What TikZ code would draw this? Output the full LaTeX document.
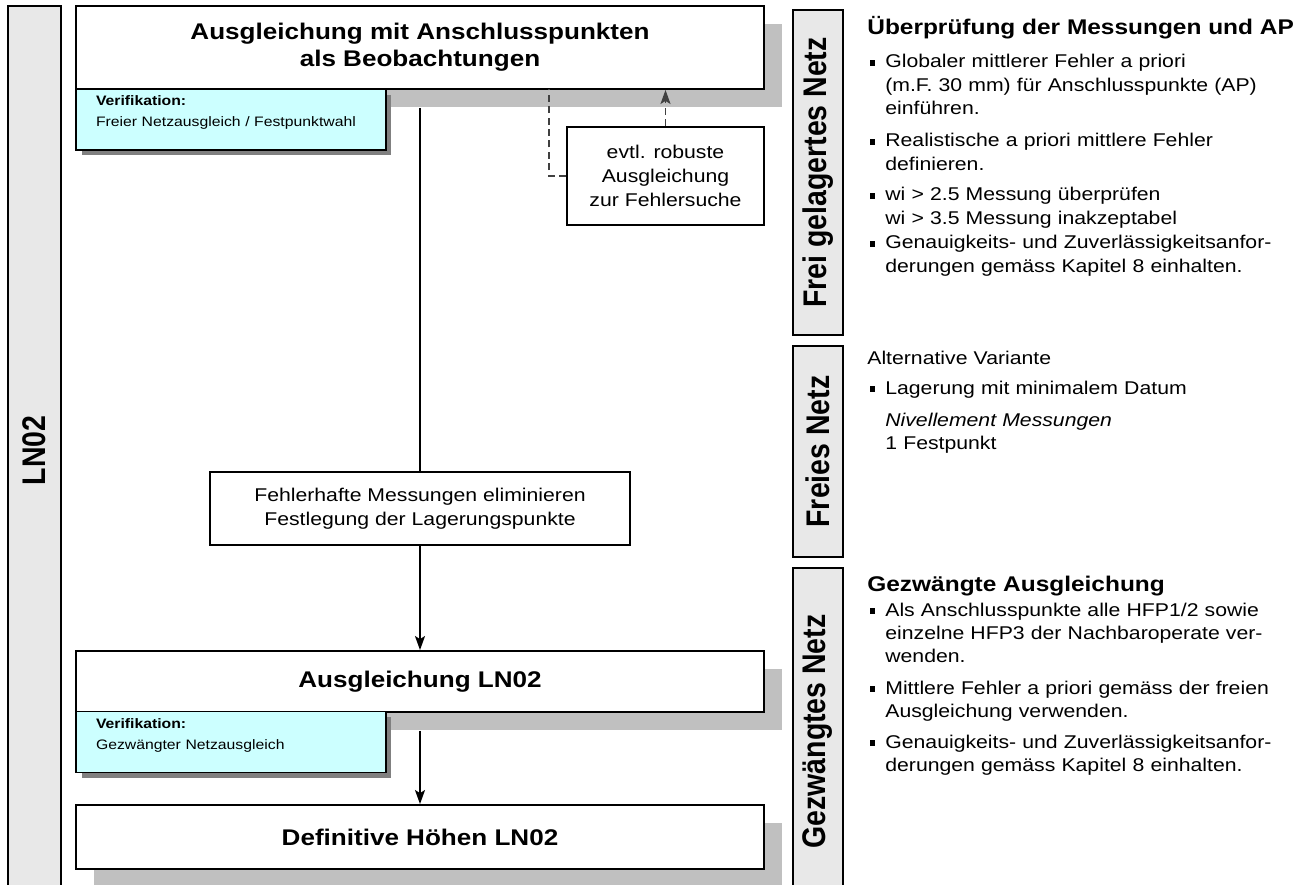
\documentclass[tikz,border=0pt]{standalone}
\usepackage{fontspec}
\setmainfont{Liberation Sans}[FakeStretch=1.15]
\newfontfamily\labelfont{Liberation Sans}
\usetikzlibrary{arrows.meta, shadows}

\definecolor{barfill}{HTML}{E8E8E8}
\definecolor{verifcyan}{HTML}{CCFFFF}
\definecolor{shadowlight}{HTML}{C0C0C0}
\definecolor{shadowdark}{HTML}{808080}
\definecolor{dashgray}{HTML}{404040}

% rotated label of the side bars
\newcommand{\sidelabel}[1]{\rotatebox{90}{\scalebox{1}[1.15]{\labelfont\bfseries\fontsize{16.2pt}{18pt}\selectfont #1}}}
% small square bullet
\newcommand{\sqbullet}{\leavevmode\llap{\rule[1.4pt]{3pt}{3pt}\hspace{5.8pt}}}

\tikzset{
  sidebar/.style={draw, line width=1.1pt, fill=barfill, inner sep=0pt},
  stepbox/.style={draw, line width=1.1pt, fill=white, minimum width=13.76cm, align=center,
    font=\fontsize{12.9pt}{15.3pt}\selectfont\bfseries,
    drop shadow={shadow xshift=0.36cm, shadow yshift=-0.36cm, fill=shadowlight, opacity=1}},
  verifbox/.style={draw, line width=1.1pt, fill=verifcyan, minimum width=6.2cm, minimum height=1.22cm,
    text width=5.4cm, inner xsep=0.4cm, align=left, text depth=0.74cm,
    font=\fontsize{7.8pt}{11.9pt}\selectfont,
    drop shadow={shadow xshift=0.11cm, shadow yshift=-0.11cm, fill=shadowdark, opacity=1}},
  plainbox/.style={draw, line width=1.1pt, fill=white, align=center,
    font=\fontsize{10.5pt}{13.6pt}\selectfont},
  heading/.style={anchor=base west, inner sep=0pt, font=\fontsize{12.1pt}{14pt}\selectfont\bfseries},
  item/.style={anchor=base west, inner sep=0pt, text width=9cm, align=left,
    font=\fontsize{10.5pt}{13.3pt}\selectfont},
  flow/.style={line width=0.85pt, draw=black},
  dashflow/.style={line width=0.8pt, draw=dashgray, dash pattern=on 4pt off 2.5pt}
}

\begin{document}
\begin{tikzpicture}[x=0.02cm, y=-0.02cm,
    >={Stealth[length=0.28cm, width=0.2cm, inset=0.06cm]}]
    \useasboundingbox (0,0) rectangle (1305,885);

    % side bars
    \node[sidebar, minimum width=1.06cm, minimum height=17.78cm] (ln) at (34.5,450.5) {\sidelabel{LN02}};
    \node[sidebar, minimum width=1.0cm, minimum height=6.5cm] (freigel) at (818,172.5) {\sidelabel{Frei gelagertes Netz}};
    \node[sidebar, minimum width=1.0cm, minimum height=4.22cm] (freies) at (818,451.5) {\sidelabel{Freies Netz}};
    \node[sidebar, minimum width=1.0cm, minimum height=6.54cm] (gezw) at (818,731.5) {\sidelabel{Gezwängtes Netz}};

    % steps of the adjustment
    \node[stepbox, minimum height=1.66cm] (anschl) at (420,47.5) {Ausgleichung mit Anschlusspunkten\\als Beobachtungen};
    \node[verifbox] (verif1) at (231,119.5) {\textbf{Verifikation:}\\Freier Netzausgleich / Festpunktwahl};
    \node[plainbox, minimum width=3.94cm, minimum height=1.96cm] (robust) at (665.5,176) {evtl. robuste\\Ausgleichung\\zur Fehlersuche};
    \node[plainbox, minimum width=8.42cm, minimum height=1.46cm] (fehler) at (420,508.5) {Fehlerhafte Messungen eliminieren\\Festlegung der Lagerungspunkte};
    \node[stepbox, minimum height=1.22cm] (ausgl) at (420,681.5) {Ausgleichung LN02};
    \node[verifbox] (verif2) at (231,742) {\textbf{Verifikation:}\\Gezwängter Netzausgleich};
    \node[stepbox, minimum height=1.28cm] (defin) at (420,837) {Definitive Höhen LN02};

    % connectors
    \coordinate (robustjoin) at (549,89);
    \draw[flow] ([yshift=-0.36cm]anschl.south) -- (fehler.north);
    \draw[flow, ->] (fehler.south) -- (ausgl.north);
    \draw[flow, ->] ([yshift=-0.36cm]ausgl.south) -- (defin.north);
    \draw[dashflow, ->] (robust.north) -- (robust.north |- anschl.south);
    \draw[dashflow] (robust.west) -| (robustjoin);

    % notes: frei gelagertes Netz
    \node[heading] (ueberpr) at (867,35) {Überprüfung der Messungen und AP};
    \node[item] (globaler) at (885,68) {\sqbullet Globaler mittlerer Fehler a priori\\(m.F. 30 mm) für Anschlusspunkte (AP)\\einführen.};
    \node[item] (realist) at (885,147) {\sqbullet Realistische a priori mittlere Fehler\\definieren.};
    \node[item] (wigrenze) at (885,201) {\sqbullet wi > 2.5 Messung überprüfen\\wi > 3.5 Messung inakzeptabel};
    \node[item] (genau1) at (885,249) {\sqbullet Genauigkeits- und Zuverlässigkeitsanfor-\\derungen gemäss Kapitel 8 einhalten.};

    % notes: freies Netz
    \node[item, text width=6cm] (altvar) at (867,364) {Alternative Variante};
    \node[item] (lagerung) at (885,394) {\sqbullet Lagerung mit minimalem Datum};
    \node[item] (nivel) at (885,426) {\textit{Nivellement Messungen}\\1 Festpunkt};

    % notes: gezwaengtes Netz
    \node[heading] (gezwhead) at (867,591) {Gezwängte Ausgleichung};
    \node[item] (anschlp) at (885,616) {\sqbullet Als Anschlusspunkte alle HFP1/2 sowie\\einzelne HFP3 der Nachbaroperate ver-\\wenden.};
    \node[item] (mittl) at (885,694) {\sqbullet Mittlere Fehler a priori gemäss der freien\\Ausgleichung verwenden.};
    \node[item] (genau2) at (885,748) {\sqbullet Genauigkeits- und Zuverlässigkeitsanfor-\\derungen gemäss Kapitel 8 einhalten.};
\end{tikzpicture}
\end{document}
